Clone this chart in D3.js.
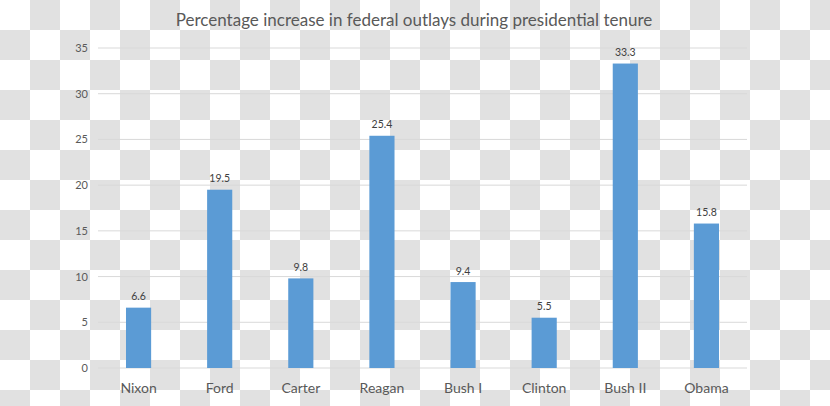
<!DOCTYPE html>
<html><head><meta charset="utf-8">
<script src="https://cdn.jsdelivr.net/npm/d3@7"></script>
<style>body{margin:0;padding:0;overflow:hidden;} svg{display:block;}</style>
</head><body>
<svg id="chart" width="830" height="406"></svg>
<script>
const categories = ["Nixon","Ford","Carter","Reagan","Bush I","Clinton","Bush II","Obama"];
const values = [6.6, 19.5, 9.8, 25.4, 9.4, 5.5, 33.3, 15.8];
const yTicks = [0,5,10,15,20,25,30,35];
const title = "Percentage increase in federal outlays during presidential tenure";

const W = 830, H = 406;
const svg = d3.select("#chart");
const font = "Lato, 'Open Sans', sans-serif";

// checkerboard background
const defs = svg.append("defs");
const pat = defs.append("pattern").attr("id","checker").attr("patternUnits","userSpaceOnUse")
  .attr("width",60).attr("height",60);
pat.append("rect").attr("width",60).attr("height",60).attr("fill","#ffffff");
pat.append("rect").attr("x",30).attr("y",0).attr("width",30).attr("height",30).attr("fill","#e1e1e1");
pat.append("rect").attr("x",0).attr("y",30).attr("width",30).attr("height",30).attr("fill","#e1e1e1");
svg.append("rect").attr("width",W).attr("height",H).attr("fill","url(#checker)");

const mLeft = 98, mRight = 747, mTop = 48, mBottom = 368;
const x = d3.scaleBand().domain(categories).range([mLeft, mRight]).paddingInner(0.69).paddingOuter(0.345);
const y = d3.scaleLinear().domain([0,35]).range([mBottom, mTop]);

// gridlines
svg.append("g").selectAll("line").data(yTicks).join("line")
  .attr("x1", mLeft).attr("x2", mRight)
  .attr("y1", d => y(d)).attr("y2", d => y(d))
  .attr("stroke", "#d9d9d9").attr("stroke-width", 1);

// y axis labels
const yAxis = d3.axisLeft(y).tickValues(yTicks).tickSize(0).tickPadding(10);
const ya = svg.append("g").attr("transform", `translate(${mLeft},0)`).call(yAxis);
ya.select(".domain").remove();
ya.selectAll("text").attr("font-family", font).attr("font-size", 11).attr("fill", "#595959");

// bars
svg.append("g").selectAll("rect").data(values).join("rect")
  .attr("x", (d,i) => x(categories[i]))
  .attr("y", d => y(d))
  .attr("width", x.bandwidth())
  .attr("height", d => y(0) - y(d))
  .attr("fill", "#5b9bd5");

// value labels
svg.append("g").selectAll("text").data(values).join("text")
  .attr("x", (d,i) => x(categories[i]) + x.bandwidth()/2)
  .attr("y", d => y(d) - 7.5)
  .attr("text-anchor", "middle")
  .attr("font-family", font).attr("font-size", 10.5).attr("fill", "#404040")
  .text(d => d.toFixed(1));

// x axis labels
const xAxis = d3.axisBottom(x).tickSize(0).tickPadding(15);
const xa = svg.append("g").attr("transform", `translate(0,${mBottom})`).call(xAxis);
xa.select(".domain").remove();
xa.selectAll("text").attr("font-family", font).attr("font-size", 14).attr("fill", "#595959");

// title
svg.append("text").attr("x", 414).attr("y", 26).attr("text-anchor","middle")
  .attr("font-family", font).attr("font-size", 17).attr("fill", "#595959")
  .text(title);
</script>
</body></html>
